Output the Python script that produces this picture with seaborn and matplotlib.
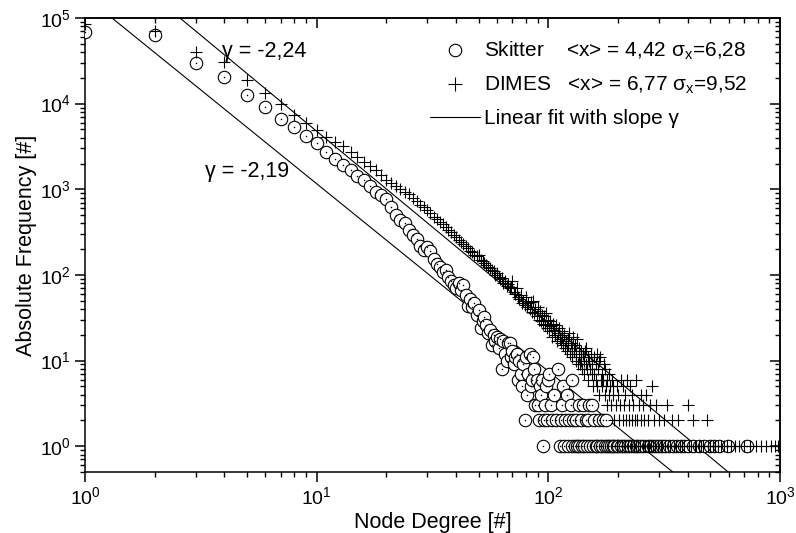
import numpy as np
import pandas as pd
import matplotlib
matplotlib.use("Agg")
import matplotlib.pyplot as plt
from matplotlib.lines import Line2D
import seaborn as sns

# ---------------- data ----------------
skitter_degree = [1, 2, 3, 4, 5, 6, 7, 8, 9, 10, 11, 12, 13, 14, 15, 16, 17, 18, 19, 20,
                  21, 22, 23, 24, 25, 26, 27, 28, 29, 30, 31, 32, 33, 34, 35, 36, 37,
                  38, 39, 40, 41, 42, 43, 44, 45, 46, 47, 48, 49, 50, 51, 52, 53, 54, 55,
                  56, 57, 58, 59, 60, 61, 62, 63, 64, 65, 66, 67, 68, 69, 70, 71, 72, 73,
                  74, 75, 76, 77, 78, 79, 80, 81, 82, 83, 84, 85, 86, 87, 88, 89, 90, 91,
                  92, 93, 94, 95, 96, 97, 98, 99, 100, 101, 103, 104, 106, 108, 110, 112,
                  113, 114, 116, 117, 118, 120, 121, 123, 125, 126, 127, 128, 130, 132, 133,
                  135, 136, 138, 140, 141, 142, 145, 147, 149, 150, 152, 155, 156, 158, 160,
                  163, 165, 167, 170, 172, 175, 178, 180, 183, 186, 190, 193, 197, 200, 205,
                  210, 215, 220, 226, 232, 238, 245, 252, 260, 268, 275, 283, 292, 300, 310,
                  320, 332, 345, 358, 372, 386, 400, 420, 445, 470, 500, 520, 545, 594, 718]
skitter_count = [69000, 63000, 30000, 20600, 12600, 9200, 6600, 5400, 4200, 3500, 2750, 2270,
                 1930, 1680, 1430, 1290, 1100, 940, 860, 770, 620, 500, 440, 400, 335, 295,
                 260, 215, 197, 210, 190, 155, 135, 125, 108, 114, 94,
                 85, 77, 70, 80, 66, 77, 59, 43, 52, 42, 47, 34, 39, 24, 29, 32, 26, 21,
                 23, 15, 20, 17, 19, 14, 18, 8, 17, 12, 10, 16, 16, 11, 13, 9, 11, 12,
                 6, 10, 7, 5, 9, 2, 11, 4, 7, 12, 5, 6, 11, 8, 3, 6, 3, 2,
                 5, 4, 6, 1, 2, 3, 5, 2, 6, 7, 3, 2, 4, 2, 8, 1,
                 2, 3, 5, 1, 2, 4, 1, 2, 3, 1, 6, 2, 1, 2, 1,
                 3, 1, 2, 1, 3, 1, 2, 1, 2, 3, 1, 3, 1, 2, 1,
                 1, 2, 1, 1, 2, 1, 2, 1, 1, 1, 1, 1, 1, 1, 1,
                 1, 1, 1, 1, 1, 1, 1, 1, 1, 1, 1, 1, 1, 1, 1,
                 1, 1, 1, 1, 1, 1, 1, 1, 1, 1, 1, 1, 1, 1, 1]

dimes_degree = [1, 2, 3, 4, 5, 6, 7, 8, 9, 10, 11, 12, 13, 14, 15, 16, 17, 18, 19, 20,
                21, 22, 23, 24, 25, 26, 27, 28, 29, 30, 31, 32, 33, 34, 35, 36, 37, 38, 39, 40,
                41, 42, 43, 44, 45, 46, 47, 48, 49, 50, 51, 52, 53, 54, 55, 56, 57, 58, 59, 60,
                61, 62, 63, 64, 65, 66, 67, 68, 69, 70, 71, 72, 73, 74, 75, 76, 77, 78, 79, 80,
                81, 82, 83, 84, 85, 86, 87, 88, 89, 90, 91, 92, 93, 94, 95, 96, 97, 98, 99, 100,
                101, 102, 103, 104, 105, 106, 107, 108, 109, 110, 111, 112, 113, 114, 115, 116,
                117, 118, 119, 120, 121, 122, 123, 124, 125, 126, 127, 128, 129, 130, 131, 132,
                133, 134, 135, 136, 137, 138, 139, 140, 141, 142, 143, 144, 145, 146, 147, 148,
                149, 150, 152, 153, 154, 155, 156, 157, 158, 160, 161, 162, 163, 164, 165, 166,
                167, 168, 170, 171, 172, 174, 175, 176, 178, 179, 180, 182, 183, 185, 186, 188,
                190, 191, 193, 195, 197, 198, 200, 202, 204, 205, 207, 209, 210, 212, 214, 215,
                217, 218, 220, 222, 224, 225, 227, 229, 230, 232, 234, 236, 238, 240, 242, 244,
                246, 248, 250, 252, 255, 257, 260, 262, 265, 268, 270, 273, 275, 278, 280, 283,
                286, 290, 293, 296, 300, 305, 310, 315, 320, 326, 330, 336, 342, 348, 355, 362,
                370, 378, 386, 399, 405, 412, 420, 428, 436, 445, 455, 465, 482, 490, 500, 512,
                525, 540, 556, 572, 590, 612, 640, 665, 700, 740, 790, 830, 870, 910, 950, 985]
dimes_count = [85000, 70000, 40000, 31000, 19000, 13300, 10000, 7400, 5900, 4900,
               4100, 3580, 3220, 2750, 2400, 2100, 1880, 1700, 1480, 1290,
               1180, 1080, 1000, 940, 870, 800, 730, 660, 620, 570,
               530, 480, 455, 420, 395, 365, 335, 315, 290, 280,
               255, 245, 228, 215, 205, 190, 184, 172, 165, 170,
               150, 146, 138, 130, 125, 120, 114, 110, 100, 105,
               94, 90, 92, 80, 85, 74, 78, 70, 72, 86,
               64, 60, 70, 55, 52, 58, 47, 50, 45, 55,
               42, 47, 40, 48, 37, 50, 36, 40, 33, 42,
               30, 38, 29, 34, 27, 33, 26, 36, 24, 30,
               22, 29, 25, 19, 27, 23, 20, 26, 17, 21, 24, 18, 16, 22, 19, 15,
               20, 14, 17, 13, 18, 15, 21, 12, 16, 14, 11, 19, 13, 15, 10, 12,
               18, 9, 14, 11, 9, 13, 10, 8, 12, 10, 7, 13, 9, 14, 8, 11,
               6, 10, 8, 12, 7, 9, 5, 11, 7, 9, 6, 12, 5, 8, 10, 4,
               11, 6, 7, 5, 6, 9, 4, 8, 5, 3, 6, 4, 7, 5, 3, 6,
               4, 5, 2, 3, 5, 1, 4, 2, 3, 6, 1, 5, 2, 3, 1, 4,
               2, 6, 1, 3, 2, 5, 1, 2, 4, 3, 1, 2, 1, 6, 2, 1,
               3, 1, 4, 2, 1, 3, 2, 1, 4, 1, 2, 1, 3, 1, 5, 1,
               2, 1, 3, 1, 2, 1, 1, 2, 1, 3, 1, 1, 2, 1, 1, 2,
               1, 1, 1, 3, 1, 1, 2, 1, 1, 1, 1, 1, 2, 1, 1, 1,
               1, 1, 1, 1, 1, 1, 1, 1, 1, 1, 1, 1, 1, 1, 1, 1]

fit_slopes = [-2.19, -2.24]          # gamma of the two linear fits
fit_log_amplitude = [5.255, 5.918]   # log10 of the fit value at degree 1
fit_labels = ["γ = -2,19", "γ = -2,24"]
fit_label_pos = [(3.3, 1600), (3.9, 40400)]

legend_labels = ["Skitter    <x> = 4,42 σ$_\\mathregular{x}$=6,28",
                 "DIMES   <x> = 6,77 σ$_\\mathregular{x}$=9,52",
                 "Linear fit with slope γ"]

# ---------------- style ----------------
sns.set_theme(style="ticks")
plt.rcParams["font.family"] = ["Liberation Sans", "DejaVu Sans"]
plt.rcParams["mathtext.fontset"] = "custom"
plt.rcParams["mathtext.rm"] = "Liberation Sans"
plt.rcParams["mathtext.it"] = "Liberation Sans:italic"
plt.rcParams["mathtext.bf"] = "Liberation Sans:bold"
plt.rcParams["axes.linewidth"] = 1.1
for key in ["text.color", "axes.labelcolor", "xtick.color", "ytick.color",
            "axes.edgecolor", "xtick.labelcolor", "ytick.labelcolor"]:
    plt.rcParams[key] = "black"

FS_TICK = 14
FS_LABEL = 15.5
FS_TEXT = 15.5
FS_LEG = 15

fig = plt.figure(figsize=(7.96, 5.33), dpi=100)
ax = fig.add_axes([85 / 796, 1 - 472 / 533, (780 - 85) / 796, (472 - 18) / 533])

sk = pd.DataFrame({"degree": skitter_degree, "count": skitter_count})
dm = pd.DataFrame({"degree": dimes_degree, "count": dimes_count})

# fit lines
xlim = (1, 1000)
for slope, amp in zip(fit_slopes, fit_log_amplitude):
    fx = np.array(xlim, dtype=float)
    fy = 10 ** (amp + slope * np.log10(fx))
    sns.lineplot(x=fx, y=fy, color="black", linewidth=0.8, ax=ax,
                 estimator=None, sort=False)

# Skitter: open circles with center dot
sns.scatterplot(data=sk, x="degree", y="count", marker="o", s=80,
                facecolor="white", edgecolor="black", linewidth=0.8, ax=ax, zorder=3)
sns.scatterplot(data=sk, x="degree", y="count", marker="o", s=1.2,
                color="black", linewidth=0, ax=ax, zorder=3)
# DIMES: plus markers
sns.scatterplot(data=dm, x="degree", y="count", marker="+", s=75,
                color="black", linewidth=0.8, ax=ax, zorder=4)

ax.set_xscale("log")
ax.set_yscale("log")
ax.set_xlim(*xlim)
ax.set_ylim(0.5, 1e5)

ax.set_xlabel("Node Degree [#]", fontsize=FS_LABEL, labelpad=3)
ax.set_ylabel("Absolute Frequency [#]", fontsize=FS_LABEL, labelpad=2)

ax.tick_params(axis="both", which="major", direction="out", length=7,
               width=1.1, labelsize=FS_TICK, pad=3, colors="black")
ax.tick_params(axis="both", which="minor", direction="out", length=3.6, width=1.0,
               colors="black")

# mirrored ticks pointing inward on top and right
secx = ax.secondary_xaxis("top")
secx.tick_params(axis="x", which="major", direction="in", length=7, width=1.1,
                 labeltop=False, colors="black")
secx.tick_params(axis="x", which="minor", direction="in", length=3.6, width=1.0,
                 colors="black")
secy = ax.secondary_yaxis("right")
secy.tick_params(axis="y", which="major", direction="in", length=7, width=1.1,
                 labelright=False, colors="black")
secy.tick_params(axis="y", which="minor", direction="in", length=3.6, width=1.0,
                 colors="black")
for spine in ax.spines.values():
    spine.set_color("black")

for txt, (tx, ty) in zip(fit_labels, fit_label_pos):
    ax.text(tx, ty, txt, fontsize=FS_TEXT, ha="left", va="center", color="black")

handles = [
    Line2D([], [], marker="o", linestyle="none", markerfacecolor="white",
           markeredgecolor="black", markersize=9, markeredgewidth=0.8),
    Line2D([], [], marker="+", linestyle="none", color="black",
           markersize=10, markeredgewidth=0.8),
    Line2D([], [], color="black", linewidth=0.8),
]
ax.legend(handles, legend_labels, loc="upper left", bbox_to_anchor=(0.484, 0.97),
          frameon=False, fontsize=FS_LEG, handlelength=2.4, handletextpad=0.2,
          labelspacing=0.62, borderaxespad=0, labelcolor="black")

fig.savefig("out.png", dpi=100)
